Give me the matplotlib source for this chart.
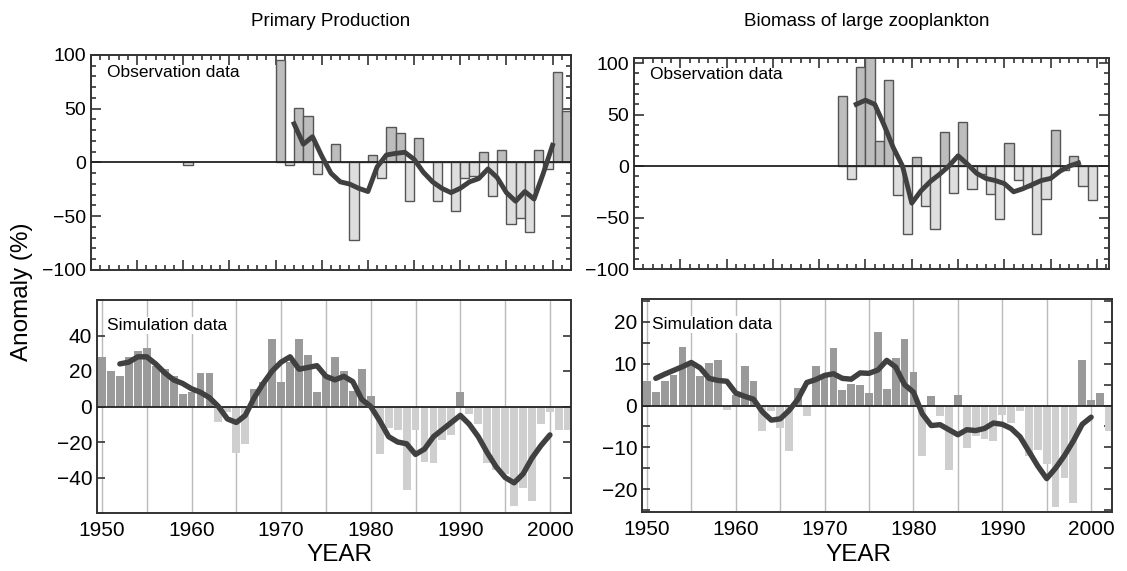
import matplotlib.pyplot as plt
from matplotlib.ticker import MultipleLocator

plt.rcParams['font.family'] = ['Liberation Sans', 'DejaVu Sans']

# Primary production, observed anomaly (%) -- bars start at the year
pp_obs_years = [1960] + list(range(1970, 2002))
pp_obs_values = [-2,
                 95, -2, 51, 43, -11, 0, 17, 0, -72, 0,
                 7, -14, 33, 27, -36, 23, 0, -36, 0, -45,
                 -14, -13, 10, -31, 12, -57, -52, -65, 12, -6,
                 84, 48]
pp_obs_mean_years = list(range(1972, 2001))
pp_obs_mean = [36, 17, 24, 6, -10, -18, -20, -24, -27, -4,
               7, 8.5, 9.5, 3, -9, -18, -24, -28, -24, -18,
               -15, -6, -14, -28, -36, -27, -34, -10, 16]

# Large zooplankton biomass, observed anomaly (%)
zp_obs_years = list(range(1972, 2000))
zp_obs_values = [68, -13, 96, 115, 24, 84, -28, -66, 9, -39,
                 -61, 33, -26, 43, -22, -8, -27, -51, 22, -14,
                 -20, -66, -32, 35, -4, 10, -19, -33]
zp_obs_mean_years = list(range(1974, 1999))
zp_obs_mean = [60, 64, 60, 40, 18, 0, -36, -24, -15, -8,
               0, 10, 2, -7, -12, -14, -17, -25, -22, -18,
               -14, -12, -5, 0, 3]

# Simulated anomalies, centred on the year
sim_years = list(range(1950, 2003))
pp_sim_values = [28, 20, 17, 28, 31, 33, 23, 21, 17, 7,
                 8, 19, 19, -9, -3, -26, -21, 10, 14, 38,
                 14, 25, 38, 29, 8, 17, 28, 20, 9, 21,
                 6, -27, -12, -13, -47, -13, -31, -32, -19, -16,
                 8, -4, -10, -32, -36, -38, -56, -46, -53, -10,
                 -3, -13, -13]
zp_sim_values = [5.8, 3.2, 5.8, 7.4, 14, 10, 7, 10.2, 11, -1,
                 2.4, 9.4, 5.8, -6.2, -1.2, -5.4, -11, 4.2, -2.6, 9.4,
                 6.8, 13.8, 3.8, 5.2, 4.8, 3.0, 17.6, 4, 11.4, 16,
                 8, -12, 2.2, -2.4, -15.4, 2.4, -10.2, -7.2, -8, -8.6,
                 -2.2, -4.2, -1.4, -12.2, -10.6, -14, -24.4, -17.4, -23.3, 10.8,
                 1.4, 3.1, -6.2]
pp_sim_mean_years = list(range(1952, 2001))
pp_sim_mean = [24, 25, 28, 28, 24, 19, 15, 13, 10, 8,
               5, 0, -7, -9, -5, 5, 13, 20, 25, 28,
               21, 22, 23, 17, 15, 17, 14, 4, 0, -8,
               -17, -20, -21, -27, -24, -17, -13, -9, -5, -10,
               -17, -26, -34, -40, -43, -38, -29, -22, -16]
zp_sim_mean_years = list(range(1951, 2001))
zp_sim_mean = [6.5, 7.5, 8.4, 9.3, 10.3, 9, 6.5, 6, 5.8, 3,
               2.2, 1.5, -1.5, -3.5, -3.2, -1.2, 1.5, 5.5, 6.2, 7.2,
               7.6, 6.5, 6.3, 7.8, 7.7, 8.5, 10.8, 9.2, 5, 3.2,
               -2, -4.8, -4.6, -5.8, -7, -5.8, -6, -5.5, -4.2, -4.5,
               -5.5, -7.5, -11, -14.5, -17.5, -15, -12, -8.5, -4.5, -2.8]

line_c = '#404040'
frame_c = '#333333'

fig = plt.figure(figsize=(11.27, 5.71), dpi=100)
W, H = 1127, 571


def rect(x0, y0, x1, y1):
    return [x0 / W, 1 - y1 / H, (x1 - x0) / W, (y1 - y0) / H]


ax_tl = fig.add_axes(rect(91, 55, 571, 270))
ax_tr = fig.add_axes(rect(634, 58, 1109, 269))
ax_bl = fig.add_axes(rect(97, 300, 571, 513))
ax_br = fig.add_axes(rect(642, 299, 1112, 512))

# observation panels
for ax, yrs, vals, myrs, mvals, xmax, ytop in [
        (ax_tl, pp_obs_years, pp_obs_values, pp_obs_mean_years, pp_obs_mean, 2002, 100),
        (ax_tr, zp_obs_years, zp_obs_values, zp_obs_mean_years, zp_obs_mean, 2001.3, 105)]:
    cols = ['#bdbdbd' if v >= 0 else '#dedede' for v in vals]
    ax.bar(yrs, vals, width=1, align='edge', color=cols, edgecolor='#555555',
           linewidth=1, zorder=2)
    ax.axhline(0, color='#222222', lw=1.3, zorder=3)
    ax.plot(myrs, mvals, color=line_c, lw=3.5, solid_joinstyle='round', zorder=4)
    ax.set_xlim(1950, xmax)
    ax.set_ylim(-100, ytop)
    ax.set_yticks([-100, -50, 0, 50, 100])
    ax.yaxis.set_minor_locator(MultipleLocator(10))
    ax.xaxis.set_major_locator(MultipleLocator(5))
    ax.xaxis.set_minor_locator(MultipleLocator(1))
    ax.tick_params(which='both', direction='in', top=True, right=True,
                   labelbottom=False, labelsize=14, color=frame_c, width=1.2)
    ax.tick_params(which='major', length=7)
    ax.tick_params(which='minor', length=3.5)
    ax.text(0.033, 0.955, 'Observation data', transform=ax.transAxes,
            ha='left', va='top', fontsize=12.5)

# simulation panels
for ax, vals, myrs, mvals, ylim, ystep, yminor in [
        (ax_bl, pp_sim_values, pp_sim_mean_years, pp_sim_mean, 60, 20, 20),
        (ax_br, zp_sim_values, zp_sim_mean_years, zp_sim_mean, 25.5, 10, 5)]:
    cols = ['#9a9a9a' if v >= 0 else '#cfcfcf' for v in vals]
    ax.bar(sim_years, vals, width=0.88, color=cols, linewidth=0, zorder=2)
    ax.axhline(0, color='#222222', lw=1.3, zorder=3)
    ax.plot(myrs, mvals, color=line_c, lw=3.9, solid_joinstyle='round',
            solid_capstyle='round', zorder=4)
    ax.set_xlim(1949.45, 2002.35)
    ax.set_ylim(-ylim, ylim)
    ax.set_xticks(range(1950, 2001, 5))
    ax.set_xticklabels([str(y) if y % 10 == 0 else '' for y in range(1950, 2001, 5)])
    ax.grid(axis='x', color='#bbbbbb', lw=1, zorder=0)
    ax.set_axisbelow(True)
    ax.yaxis.set_major_locator(MultipleLocator(ystep))
    ax.yaxis.set_minor_locator(MultipleLocator(yminor))
    ax.tick_params(axis='x', length=0, labelsize=15, pad=6)
    ax.tick_params(axis='y', which='both', direction='in', right=True,
                   labelsize=15, color=frame_c, width=1.2)
    ax.tick_params(axis='y', which='major', length=6)
    ax.tick_params(axis='y', which='minor', length=6)
    ax.text(0.022, 0.915, 'Simulation data', transform=ax.transAxes,
            ha='left', va='top', fontsize=12.5,
            bbox=dict(facecolor='white', edgecolor='none', pad=1))

ax_bl.set_yticks([-40, -20, 0, 20, 40])
ax_br.set_yticks([-20, -10, 0, 10, 20])

for ax in (ax_tl, ax_tr, ax_bl, ax_br):
    for s in ax.spines.values():
        s.set_color(frame_c)
        s.set_linewidth(1.4)

fig.text(331 / W, 1 - 22 / H, 'Primary Production', ha='center', va='center', fontsize=13.5)
fig.text(867 / W, 1 - 22 / H, 'Biomass of large zooplankton', ha='center', va='center',
         fontsize=13.5)
fig.text(339 / W, 1 - 555 / H, 'YEAR', ha='center', va='center', fontsize=17.5)
fig.text(858 / W, 1 - 555 / H, 'YEAR', ha='center', va='center', fontsize=17.5)
fig.text(22 / W, 1 - 292 / H, 'Anomaly (%)', ha='center', va='center', fontsize=17.5,
         rotation=90)

fig.savefig('out.png', dpi=100)
